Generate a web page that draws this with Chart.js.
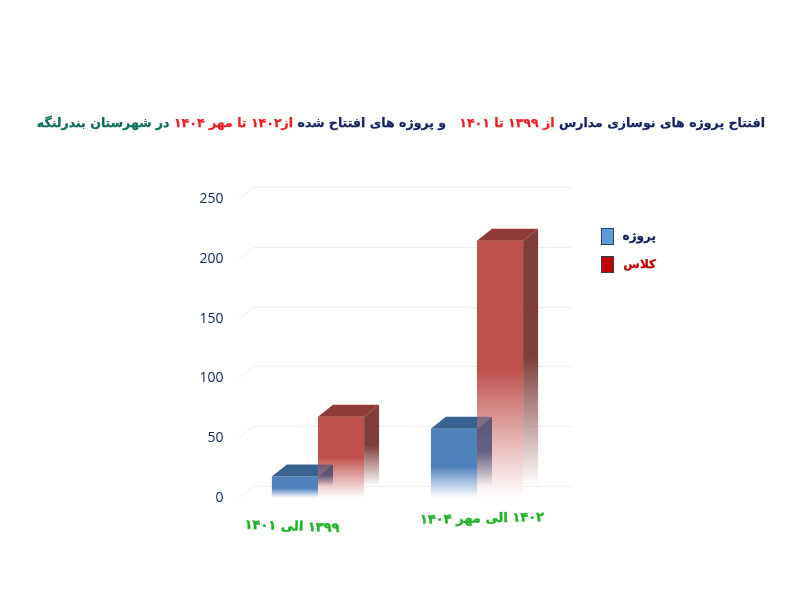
<!DOCTYPE html>
<html>
<head>
<meta charset="utf-8">
<script src="https://cdn.jsdelivr.net/npm/chart.js@4/dist/chart.umd.min.js"></script>
<style>
  html, body { margin: 0; padding: 0; background: #fff; }
  #wrap { position: relative; width: 800px; height: 600px; overflow: hidden; }
  #title { position: absolute; right: 35px; top: 115px; direction: rtl; white-space: nowrap;
    font: bold 12.55px "DejaVu Sans"; color: #14235f; -webkit-text-stroke: 0.25px; }
  #title .r { color: #ee1c25; }
  #title .g { color: #0b6e5c; }
  #legend { position: absolute; left: 601px; top: 228px; font: bold 12px "DejaVu Sans"; -webkit-text-stroke: 0.25px; }
  #legend div { position: relative; height: 28px; }
  #legend i { position: absolute; left: 0; top: 0; width: 11px; height: 15px; border: 1px solid #2b4560; }
  #legend span { position: absolute; left: 23px; top: 1px; width: 32px; text-align: center; direction: rtl; white-space: nowrap; }
</style>
</head>
<body>
<div id="wrap">
  <canvas id="chart" width="800" height="600"></canvas>
  <div id="title">افتتاح پروژه های نوسازی مدارس <span class="r">از ۱۳۹۹ تا ۱۴۰۱</span>&nbsp;&nbsp; و پروژه های افتتاح شده <span class="r">از۱۴۰۲ تا مهر ۱۴۰۴</span> <span class="g">در شهرستان بندرلنگه</span></div>
  <div id="legend"></div>
</div>
<script>
const categories = ['۱۳۹۹ الی ۱۴۰۱', '۱۴۰۲ الی مهر ۱۴۰۴'];
const projects = [18, 58];
const classes = [68, 215];
const seriesNames = ['پروژه', 'کلاس'];
const yTicks = [0, 50, 100, 150, 200, 250];

const depthX = 15;
const depthY = 12;

// legend is plain html, placed like in the picture
const legendBox = document.getElementById('legend');
[['#5b9bd5', '#14235f'], ['#c00000', '#c00000']].forEach((c, i) => {
  const row = document.createElement('div');
  row.innerHTML = `<i style="background:${c[0]}"></i><span style="color:${c[1]}">${seriesNames[i]}</span>`;
  legendBox.appendChild(row);
});

// front face fades out to white near the floor
const frontFill = (color, fadeStart) => (context) => {
  const chart = context.chart;
  if (!chart.chartArea || context.type !== 'data') return color;
  const scale = chart.scales.y;
  const top = scale.getPixelForValue(context.raw);
  const bottom = scale.getPixelForValue(0);
  const g = chart.ctx.createLinearGradient(0, top, 0, bottom);
  g.addColorStop(0, color);
  g.addColorStop(fadeStart, color);
  g.addColorStop(1, 'rgba(255,255,255,0.9)');
  return g;
};

// over = how the face looks where it crosses the neighbouring red bar
const faces = [
  { top: 'rgb(58,98,145)', over: 'rgba(47,72,115,0.55)', side: '47,60,105', sideAlpha: 0.72 },
  { top: '#8f3b38', over: '#8f3b38', side: '116,46,44', sideAlpha: 0.92 }
];

// 3d top + side of each bar, drawn right after its dataset so blue stays above red
const bars3d = {
  id: 'bars3d',
  afterDatasetDraw(chart, args) {
    const ctx = chart.ctx;
    const look = faces[args.index];
    const y0 = chart.scales.y.getPixelForValue(0);
    chart.getDatasetMeta(args.index).data.forEach((bar) => {
      const left = bar.x - bar.width / 2;
      const right = bar.x + bar.width / 2;
      ctx.save();
      const t = ctx.createLinearGradient(left, 0, right + depthX, 0);
      const cut = bar.width / (bar.width + depthX);
      t.addColorStop(0, look.top);
      t.addColorStop(cut, look.top);
      t.addColorStop(cut, look.over);
      t.addColorStop(1, look.over);
      ctx.fillStyle = t;
      ctx.beginPath();
      ctx.moveTo(left, bar.y);
      ctx.lineTo(left + depthX, bar.y - depthY);
      ctx.lineTo(right + depthX, bar.y - depthY);
      ctx.lineTo(right, bar.y);
      ctx.closePath();
      ctx.fill();
      const g = ctx.createLinearGradient(0, bar.y - depthY, 0, y0 - depthY);
      g.addColorStop(0, `rgba(${look.side},${look.sideAlpha})`);
      g.addColorStop(0.5, `rgba(${look.side},${look.sideAlpha})`);
      g.addColorStop(1, `rgba(${look.side},0)`);
      ctx.fillStyle = g;
      ctx.beginPath();
      ctx.moveTo(right, bar.y);
      ctx.lineTo(right + depthX, bar.y - depthY);
      ctx.lineTo(right + depthX, y0 - depthY);
      ctx.lineTo(right, y0);
      ctx.closePath();
      ctx.fill();
      ctx.restore();
    });
  }
};

// back wall grid, shifted away from the axis
const wallGrid = {
  id: 'wallGrid',
  beforeDatasetsDraw(chart) {
    const ctx = chart.ctx;
    const { left, right } = chart.chartArea;
    const y = chart.scales.y;
    ctx.save();
    ctx.strokeStyle = '#eeeeee';
    ctx.lineWidth = 1;
    yTicks.forEach((v) => {
      const py = Math.round(y.getPixelForValue(v)) + 0.5;
      ctx.beginPath();
      ctx.moveTo(left, py);
      ctx.lineTo(left + depthX, py - depthY);
      ctx.lineTo(right + depthX, py - depthY);
      ctx.stroke();
    });
    ctx.restore();
  }
};

// category labels sit at uneven heights and slightly tilted in the original
const labelPlace = [{ dy: 29, tilt: 0.035 }, { dy: 21, tilt: -0.02 }];
const tiltedLabels = {
  id: 'tiltedLabels',
  afterDraw(chart) {
    const ctx = chart.ctx;
    const x = chart.scales.x;
    const y0 = chart.scales.y.getPixelForValue(0);
    categories.forEach((text, i) => {
      ctx.save();
      ctx.translate(x.getPixelForValue(i) + (i === 0 ? -26 : 5), y0 + labelPlace[i].dy);
      ctx.rotate(labelPlace[i].tilt);
      ctx.direction = 'rtl';
      ctx.textAlign = 'center';
      ctx.textBaseline = 'middle';
      ctx.font = 'bold 13px "DejaVu Sans"';
      ctx.fillStyle = '#1fb32a';
      ctx.strokeStyle = '#1fb32a';
      ctx.lineWidth = 0.4;
      ctx.fillText(text, 0, 0);
      ctx.strokeText(text, 0, 0);
      ctx.restore();
    });
  }
};

new Chart(document.getElementById('chart'), {
  type: 'bar',
  data: {
    labels: categories,
    datasets: [
      { label: seriesNames[0], data: projects, backgroundColor: frontFill('#4f81bd', 0.55) },
      { label: seriesNames[1], data: classes, backgroundColor: frontFill('#c0504d', 0.5) }
    ]
  },
  options: {
    responsive: false,
    animation: false,
    layout: { padding: { top: 199, bottom: 94, right: 243.5, left: 0 } },
    datasets: { bar: { categoryPercentage: 0.58, barPercentage: 1 } },
    plugins: { legend: { display: false }, title: { display: false }, tooltip: { enabled: false } },
    scales: {
      x: {
        grid: { display: false },
        border: { display: false },
        ticks: { display: false }
      },
      y: {
        min: 0,
        max: 250,
        afterFit(scale) { scale.width = 238.5; },
        afterBuildTicks(scale) { scale.ticks = yTicks.map((value) => ({ value })); },
        grid: { display: false },
        border: { display: false },
        ticks: { color: '#12296b', padding: 7, font: { family: 'Open Sans', size: 14 } }
      }
    }
  },
  plugins: [wallGrid, bars3d, tiltedLabels]
});
</script>
</body>
</html>
